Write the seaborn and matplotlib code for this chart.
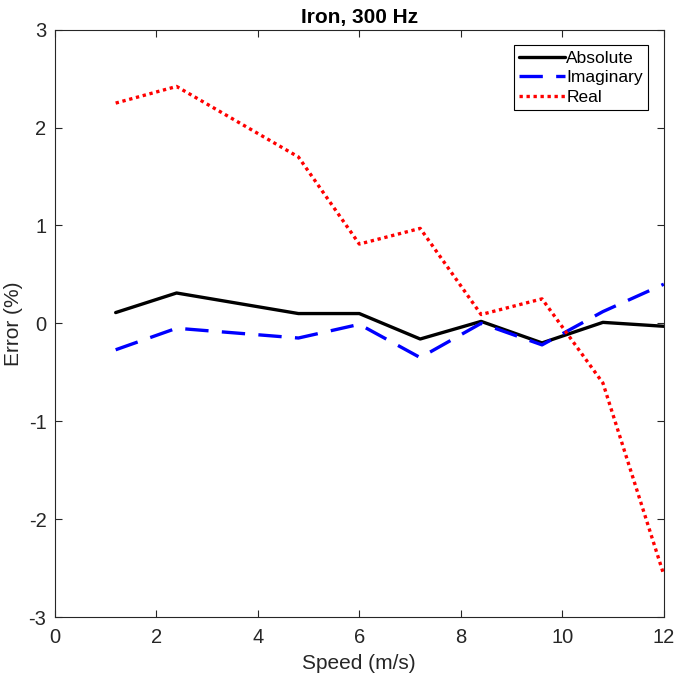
import numpy as np
import pandas as pd
import matplotlib.pyplot as plt
import seaborn as sns

# Dados
speed = [1.2, 2.4, 4.8, 6.0, 7.2, 8.4, 9.6, 10.8, 12.0]
err_abs = [0.11, 0.31, 0.10, 0.10, -0.16, 0.02, -0.20, 0.01, -0.03]
err_imag = [-0.27, -0.05, -0.15, -0.01, -0.35, 0.00, -0.22, 0.12, 0.40]
err_real = [2.25, 2.42, 1.70, 0.81, 0.97, 0.09, 0.25, -0.61, -2.57]

df = pd.DataFrame({'Speed': speed, 'Absolute': err_abs,
                   'Imaginary': err_imag, 'Real': err_real})

sns.set_style('ticks')
plt.rcParams['font.family'] = ['Liberation Sans', 'DejaVu Sans']
plt.rcParams['axes.unicode_minus'] = False

fig = plt.figure(figsize=(6.76, 6.79), dpi=100)
ax = fig.add_axes([0.081, 0.0913, 0.901, 0.865])

sns.lineplot(data=df, x='Speed', y='Absolute', color='black', lw=2.4,
             label='Absolute', ax=ax)
sns.lineplot(data=df, x='Speed', y='Imaginary', color='blue', lw=2.4,
             label='Imaginary', ax=ax, dashes=False)
sns.lineplot(data=df, x='Speed', y='Real', color='red', lw=2.4,
             label='Real', ax=ax, dashes=False)
ax.lines[1].set_dashes([7, 4])
ax.lines[2].set_dashes([1, 1.1])

ax.set_xlim(0, 12)
ax.set_ylim(-3, 3)
ax.set_xticks(range(0, 13, 2))
ax.set_yticks(range(-3, 4))
ax.tick_params(direction='in', top=True, right=True, length=5,
               labelsize=14.5, color='#262626', labelcolor='#262626')
ax.tick_params(axis='x', pad=8)
ax.tick_params(axis='y', pad=6)
for s in ax.spines.values():
    s.set_color('#262626')
    s.set_linewidth(0.8)

ax.set_xlabel('Speed (m/s)', fontsize=15, color='#262626', labelpad=5)
ax.set_ylabel('Error (%)', fontsize=15, color='#262626', labelpad=4)
ax.set_title('Iron, 300 Hz', fontsize=15, fontweight='bold', pad=5,
             color='black')

leg = ax.legend(loc='upper right', fontsize=12.5, handlelength=2.6,
                handletextpad=0.1, borderpad=0.3, labelspacing=0.25,
                fancybox=False, framealpha=1, edgecolor='black',
                borderaxespad=0.9)
leg.get_frame().set_linewidth(0.8)
for t in leg.get_texts():
    t.set_color('black')

fig.savefig('out.png', dpi=100)
